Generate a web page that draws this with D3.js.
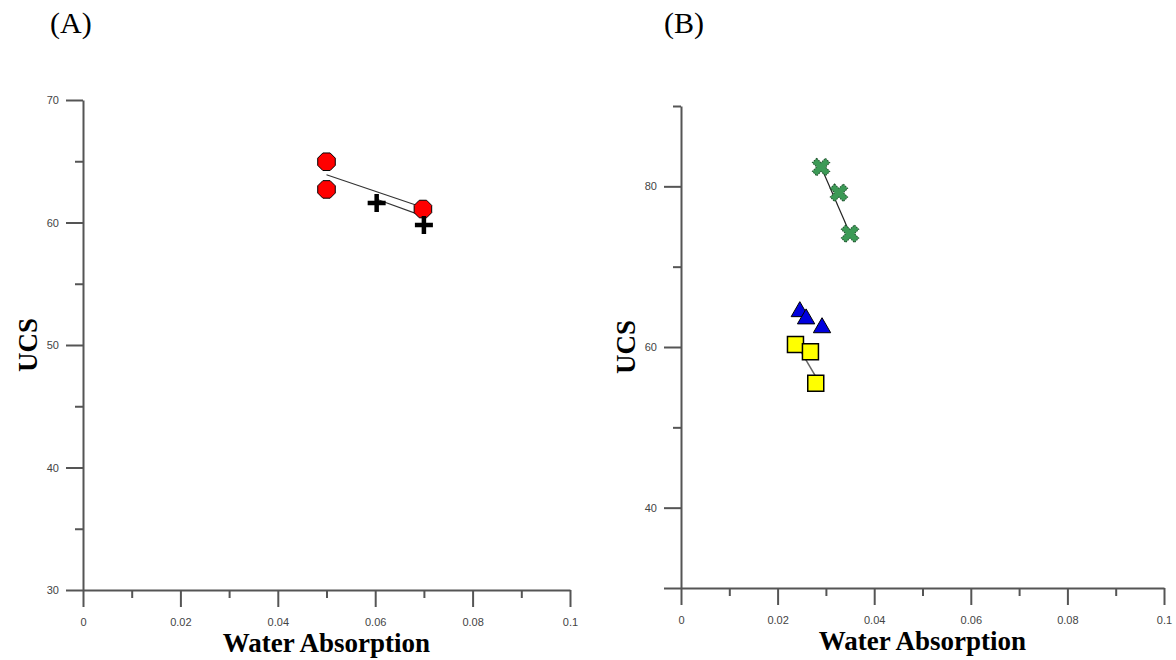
<!DOCTYPE html>
<html>
<head>
<meta charset="utf-8">
<script src="https://cdn.jsdelivr.net/npm/d3@7"></script>
<style>
  body { margin: 0; background: #fff; }
  .tick text { font-family: "Liberation Sans", Arial, sans-serif; font-size: 11px; fill: #444; }
  .axis path, .axis line { stroke: #555; stroke-width: 2; }
  .title { font-family: "Liberation Serif", "Times New Roman", serif; font-weight: bold; font-size: 27px; fill: #000; }
  .panel { font-family: "Liberation Serif", "Times New Roman", serif; font-size: 30px; fill: #000; }
</style>
</head>
<body>
<svg id="chart" width="1176" height="660"></svg>
<script>
// panel A data
const circlesA = [[0.05, 64.96], [0.05, 62.7], [0.0698, 61.1]];
const crossesA = [[0.0603, 61.6], [0.07, 59.8]];
const fitCirclesA = [[0.05, 63.9], [0.07, 61.2]];
const fitCrossesA = [[0.0603, 61.9], [0.07, 60.5]];

// panel B data
const crossesB = [[0.029, 82.4], [0.0327, 79.2], [0.035, 74.1]];
const trianglesB = [[0.0246, 64.4], [0.0259, 63.5], [0.0292, 62.4]];
const squaresB = [[0.0237, 60.3], [0.0268, 59.4], [0.0279, 55.5]];
const fitCrossesB = [[0.029, 82.4], [0.035, 74.1]];
const fitSquaresB = [[0.0237, 60.6], [0.0279, 56.3]];

const xTicks = [0, 0.02, 0.04, 0.06, 0.08, 0.1];
const xMinor = [0.01, 0.03, 0.05, 0.07, 0.09];
const yTicksA = [30, 40, 50, 60, 70];
const yMinorA = [35, 45, 55, 65];
const yTicksB = [30, 40, 60, 80];
const yMinorB = [50, 70, 90];

const svg = d3.select("#chart");
const fmtX = d => d === 0 ? "0" : d3.format("")(+d.toFixed(2));

function panel(cfg) {
    const x = d3.scaleLinear().domain([0, 0.1]).range([cfg.x0, cfg.x1]);
    const y = d3.scaleLinear().domain(cfg.yDomain).range([cfg.y0, cfg.y1]);
    const g = svg.append("g");

    // minor ticks
    g.append("g").attr("class", "axis")
        .attr("transform", `translate(0,${cfg.y0})`)
        .call(d3.axisBottom(x).tickValues(xMinor).tickSize(8).tickFormat(""))
        .select(".domain").remove();
    g.append("g").attr("class", "axis")
        .attr("transform", `translate(${cfg.x0},0)`)
        .call(d3.axisLeft(y).tickValues(cfg.yMinor).tickSize(8).tickFormat(""))
        .select(".domain").remove();

    // major ticks
    g.append("g").attr("class", "axis")
        .attr("transform", `translate(0,${cfg.y0})`)
        .call(d3.axisBottom(x).tickValues(xTicks).tickSize(17).tickSizeOuter(0).tickPadding(11).tickFormat(fmtX));
    g.append("g").attr("class", "axis")
        .attr("transform", `translate(${cfg.x0},0)`)
        .call(d3.axisLeft(y).tickValues(cfg.yTicks).tickSize(17).tickSizeOuter(0).tickPadding(7)
            .tickFormat(d => cfg.hideLabels.includes(d) ? "" : d));

    g.append("text").attr("class", "title")
        .attr("text-anchor", "middle")
        .attr("x", (cfg.x0 + cfg.x1) / 2)
        .attr("y", cfg.y0 + 62)
        .text("Water Absorption");

    g.append("text").attr("class", "title")
        .attr("text-anchor", "middle")
        .attr("transform", `translate(${cfg.x0 - 46},${(cfg.y0 + cfg.y1) / 2}) rotate(-90)`)
        .text("UCS");

    g.append("text").attr("class", "panel")
        .attr("x", cfg.labelX).attr("y", 33)
        .text(cfg.label);

    return { g, x, y };
}

const line = (x, y) => d3.line().x(d => x(d[0])).y(d => y(d[1]));

// ---- panel A
const A = panel({ x0: 83, x1: 570, y0: 590, y1: 100, yDomain: [30, 70],
    yTicks: yTicksA, yMinor: yMinorA, hideLabels: [], label: "(A)", labelX: 50 });

A.g.append("path").datum(fitCirclesA).attr("d", line(A.x, A.y))
    .attr("fill", "none").attr("stroke", "#333").attr("stroke-width", 1.2);
A.g.append("path").datum(fitCrossesA).attr("d", line(A.x, A.y))
    .attr("fill", "none").attr("stroke", "#333").attr("stroke-width", 1.2);

const octagon = d3.symbol().type({
    draw(ctx, size) {
        const r = Math.sqrt(size) / 2;
        for (let i = 0; i < 8; i++) {
            const a = Math.PI / 8 + i * Math.PI / 4;
            i ? ctx.lineTo(r * Math.cos(a), r * Math.sin(a)) : ctx.moveTo(r * Math.cos(a), r * Math.sin(a));
        }
        ctx.closePath();
    }
}).size(19 * 19);

A.g.selectAll(".circ").data(circlesA).join("path")
    .attr("transform", d => `translate(${A.x(d[0])},${A.y(d[1])})`)
    .attr("d", octagon)
    .attr("fill", "#ff0000").attr("stroke", "#000").attr("stroke-width", 1);

A.g.selectAll(".plus").data(crossesA).join("path")
    .attr("transform", d => `translate(${A.x(d[0])},${A.y(d[1])})`)
    .attr("d", "M-9,0H9M0,-9V9")
    .attr("stroke", "#000").attr("stroke-width", 4.5).attr("fill", "none");

// ---- panel B
const B = panel({ x0: 681, x1: 1164, y0: 588, y1: 106, yDomain: [30, 90],
    yTicks: yTicksB, yMinor: yMinorB, hideLabels: [30], label: "(B)", labelX: 664 });

B.g.append("path").datum(fitCrossesB).attr("d", line(B.x, B.y))
    .attr("fill", "none").attr("stroke", "#222").attr("stroke-width", 1.2);
B.g.append("path").datum(fitSquaresB).attr("d", line(B.x, B.y))
    .attr("fill", "none").attr("stroke", "#666").attr("stroke-width", 1.5);

B.g.selectAll(".xm").data(crossesB).join("path")
    .attr("transform", d => `translate(${B.x(d[0])},${B.y(d[1])}) rotate(45)`)
    .attr("d", d3.symbol().type(d3.symbolCross).size(190))
    .attr("fill", "#3c9a56").attr("stroke", "#1d4f2b").attr("stroke-width", 1)
    .attr("stroke-dasharray", "1.5,1");

B.g.selectAll(".tri").data(trianglesB).join("path")
    .attr("transform", d => `translate(${B.x(d[0])},${B.y(d[1])})`)
    .attr("d", d3.symbol().type(d3.symbolTriangle).size(130))
    .attr("fill", "#0000dd").attr("stroke", "#000").attr("stroke-width", 1);

B.g.selectAll(".sq").data(squaresB).join("path")
    .attr("transform", d => `translate(${B.x(d[0])},${B.y(d[1])})`)
    .attr("d", d3.symbol().type(d3.symbolSquare).size(16 * 16))
    .attr("fill", "#ffff00").attr("stroke", "#000").attr("stroke-width", 1.5);
</script>
</body>
</html>
